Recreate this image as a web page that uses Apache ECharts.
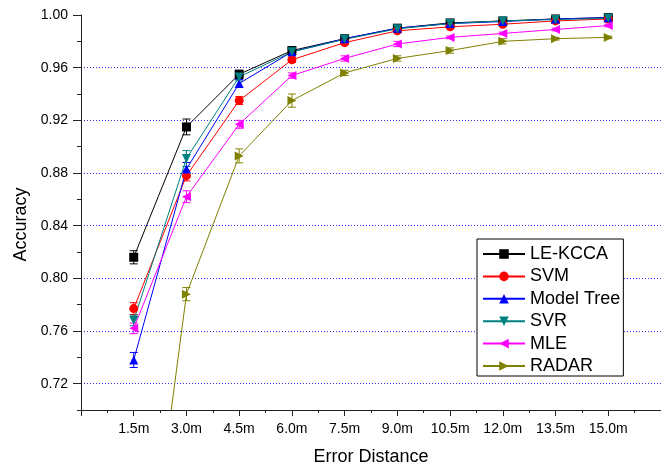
<!DOCTYPE html>
<html>
<head>
<meta charset="utf-8">
<script src="https://cdn.jsdelivr.net/npm/echarts@6.0.0/dist/echarts.min.js"></script>
<style>
  html, body { margin: 0; padding: 0; background: #fff; }
  #chart { width: 661px; height: 471px; }
</style>
</head>
<body>
<div id="chart"></div>
<script>
// x 轴的距离（单位 m）和刻度文字
var distances = [1.5, 3.0, 4.5, 6.0, 7.5, 9.0, 10.5, 12.0, 13.5, 15.0];
var xLabels = ['1.5m', '3.0m', '4.5m', '6.0m', '7.5m', '9.0m', '10.5m', '12.0m', '13.5m', '15.0m'];
var yLabels = ['0.72', '0.76', '0.80', '0.84', '0.88', '0.92', '0.96', '1.00'];

// 各方法的准确率
var leKcca    = [0.816, 0.915, 0.955, 0.973, 0.982, 0.990, 0.994, 0.9955, 0.997, 0.998];
var svm       = [0.777, 0.878, 0.935, 0.966, 0.979, 0.988, 0.991, 0.993, 0.9955, 0.997];
var modelTree = [0.738, 0.883, 0.948, 0.972, 0.982, 0.990, 0.9935, 0.995, 0.997, 0.998];
var svr       = [0.768, 0.891, 0.953, 0.972, 0.9815, 0.9895, 0.9935, 0.9955, 0.9965, 0.9975];
var mle       = [0.762, 0.862, 0.917, 0.954, 0.967, 0.978, 0.983, 0.986, 0.989, 0.992];
var radar     = [0.483, 0.788, 0.893, 0.935, 0.956, 0.967, 0.973, 0.980, 0.982, 0.983];

// 误差棒（±）
var leKccaErr    = [0.005, 0.006, 0.003, 0.002, 0.001, 0.001, 0.001, 0.001, 0.001, 0.001];
var svmErr       = [0.0045, 0.004, 0.003, 0.002, 0.001, 0.001, 0.001, 0.001, 0.001, 0.001];
var modelTreeErr = [0.0057, 0.005, 0.003, 0.002, 0.001, 0.001, 0.001, 0.001, 0.001, 0.001];
var svrErr       = [0.004, 0.006, 0.003, 0.002, 0.001, 0.001, 0.001, 0.001, 0.001, 0.001];
var mleErr       = [0.004, 0.0045, 0.003, 0.002, 0.002, 0.002, 0.001, 0.001, 0.001, 0.001];
var radarErr     = [0.006, 0.005, 0.0053, 0.005, 0.002, 0.002, 0.002, 0.002, 0.001, 0.001];

var names = ['LE-KCCA', 'SVM', 'Model Tree', 'SVR', 'MLE', 'RADAR'];

var chart = echarts.init(document.getElementById('chart'));
var FONT = '"Liberation Sans", Arial, sans-serif';

function lineSeries(name, values, color, symbol) {
    return {
        name: name,
        type: 'line',
        data: distances.map(function (d, i) { return [d, values[i]]; }),
        symbol: symbol,
        symbolSize: 9,
        showAllSymbol: true,
        z: 3,
        lineStyle: { color: color, width: 1 },
        itemStyle: { color: color },
        clip: true
    };
}

// 误差棒用 custom 系列画
function errorSeries(name, values, errors, color) {
    return {
        name: name,
        type: 'custom',
        z: 2,
        itemStyle: { color: color },
        data: distances.map(function (d, i) { return [d, values[i], errors[i]]; }),
        encode: { x: 0, y: 1 },
        renderItem: function (params, api) {
            var x = api.value(0), y = api.value(1), e = api.value(2);
            var top = api.coord([x, y + e]);
            var bot = api.coord([x, y - e]);
            var w = 4;
            var st = { stroke: color, lineWidth: 1 };
            return {
                type: 'group',
                children: [
                    { type: 'line', shape: { x1: top[0], y1: top[1], x2: bot[0], y2: bot[1] }, style: st },
                    { type: 'line', shape: { x1: top[0] - w, y1: top[1], x2: top[0] + w, y2: top[1] }, style: st },
                    { type: 'line', shape: { x1: bot[0] - w, y1: bot[1], x2: bot[0] + w, y2: bot[1] }, style: st }
                ]
            };
        }
    };
}

var downTri = 'path://M0,0L10,0L5,10Z';
var leftTri = 'path://M10,0L10,10L0,5Z';
var rightTri = 'path://M0,0L10,5L0,10Z';

var option = {
    animation: false,
    backgroundColor: '#fff',
    textStyle: { fontFamily: FONT, color: '#000' },
    grid: { left: 81, top: 15, bottom: 60, right: -7 },
    legend: {
        orient: 'vertical',
        left: 477,
        top: 239,
        data: names,
        itemWidth: 42,
        itemHeight: 12,
        itemGap: 4.4,
        padding: [6, 3, 1, 5],
        borderColor: '#000',
        borderWidth: 1,
        backgroundColor: '#fff',
        textStyle: { fontFamily: FONT, fontSize: 18, color: '#000', lineHeight: 18 }
    },
    xAxis: {
        type: 'value',
        min: 0,
        max: 16.5,
        interval: 1.5,
        name: 'Error Distance',
        nameLocation: 'middle',
        nameGap: 38,
        nameTextStyle: { fontFamily: FONT, fontSize: 18, color: '#000' },
        axisLine: { lineStyle: { color: '#222', width: 1 } },
        axisTick: { length: 6, lineStyle: { color: '#222' } },
        minorTick: { show: true, splitNumber: 2, length: 3, lineStyle: { color: '#222' } },
        splitLine: { show: false },
        axisLabel: {
            margin: 12,
            fontFamily: FONT,
            fontSize: 14,
            color: '#000',
            showMaxLabel: false,
            formatter: function (v) {
                var i = Math.round(v / 1.5) - 1;
                return (i >= 0 && i < xLabels.length) ? xLabels[i] : '';
            }
        }
    },
    yAxis: [{
        type: 'value',
        min: 0.70,
        max: 1.00,
        interval: 0.02,
        name: 'Accuracy',
        nameLocation: 'middle',
        nameGap: 50,
        nameTextStyle: { fontFamily: FONT, fontSize: 18, color: '#000', padding: [0, 24, 0, 0] },
        axisLine: { show: true, lineStyle: { color: '#222', width: 1 } },
        axisTick: { show: true, length: 8, customValues: [0.72, 0.76, 0.80, 0.84, 0.88, 0.92, 0.96, 1.00], lineStyle: { color: '#222' } },
        splitLine: { show: false },
        axisLabel: {
            margin: 13,
            fontFamily: FONT,
            fontSize: 14,
            color: '#000',
            formatter: function (v) {
                var k = Math.round(v * 100);
                if (k % 4 !== 0) return '';
                var i = (k - 72) / 4;
                return yLabels[i] || '';
            }
        }
    }, {
        type: 'value',
        min: 0.70,
        max: 1.00,
        interval: 0.02,
        position: 'left',
        axisLine: { show: false },
        axisTick: { show: true, length: 4, lineStyle: { color: '#222' } },
        axisLabel: { show: false },
        splitLine: {
            show: true,
            showMaxLine: false,
            lineStyle: { color: ['rgba(0,0,0,0)', '#3333ff'], type: [1, 2], width: 1 }
        }
    }],
    series: [
        lineSeries('LE-KCCA', leKcca, '#000000', 'rect'),
        lineSeries('SVM', svm, '#ff0000', 'circle'),
        lineSeries('Model Tree', modelTree, '#0000ff', 'triangle'),
        lineSeries('SVR', svr, '#008080', downTri),
        lineSeries('MLE', mle, '#ff00ff', leftTri),
        lineSeries('RADAR', radar, '#808000', rightTri),
        errorSeries('LE-KCCA', leKcca, leKccaErr, '#000000'),
        errorSeries('SVM', svm, svmErr, '#ff0000'),
        errorSeries('Model Tree', modelTree, modelTreeErr, '#0000ff'),
        errorSeries('SVR', svr, svrErr, '#008080'),
        errorSeries('MLE', mle, mleErr, '#ff00ff'),
        errorSeries('RADAR', radar, radarErr, '#808000')
    ]
};

chart.setOption(option);
</script>
</body>
</html>
